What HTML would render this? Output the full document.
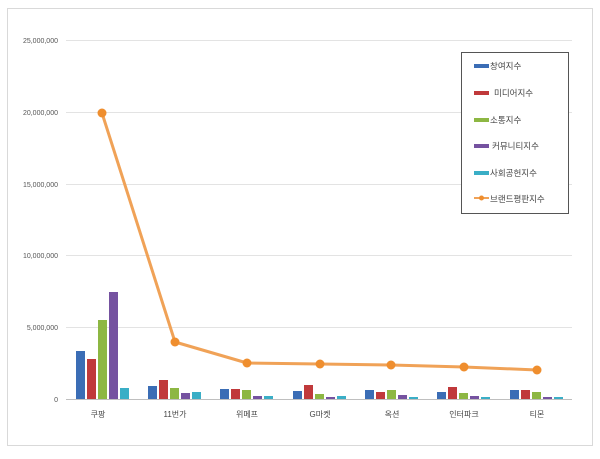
<!DOCTYPE html>
<html><head><meta charset="utf-8"><style>
body{margin:0;background:#fff;}
svg text{font-family:"Liberation Sans","Noto Sans CJK KR",sans-serif;}
</style></head><body>
<svg width="600" height="454" viewBox="0 0 600 454" xmlns="http://www.w3.org/2000/svg">
<rect x="7.5" y="8.5" width="585" height="437" fill="#fff" stroke="#d9d9d9"/>
<g stroke="#e3e3e3" stroke-width="1">
<line x1="66" y1="40.5" x2="572" y2="40.5"/>
<line x1="66" y1="112.5" x2="572" y2="112.5"/>
<line x1="66" y1="184.5" x2="572" y2="184.5"/>
<line x1="66" y1="255.5" x2="572" y2="255.5"/>
<line x1="66" y1="327.5" x2="572" y2="327.5"/>
</g>
<line x1="66" y1="399.5" x2="572" y2="399.5" stroke="#bfbfbf"/>
<g font-size="7" fill="#555" text-anchor="end">
<text x="58" y="43">25,000,000</text>
<text x="58" y="115">20,000,000</text>
<text x="58" y="187">15,000,000</text>
<text x="58" y="258">10,000,000</text>
<text x="58" y="330">5,000,000</text>
<text x="58" y="402">0</text>
</g>
<g id="bars">
<!-- 쿠팡 -->
<rect x="76" y="351" width="9" height="48" fill="#3b6db5"/>
<rect x="87" y="359" width="9" height="40" fill="#c0393b"/>
<rect x="98" y="320" width="9" height="79" fill="#8db743"/>
<rect x="109" y="292" width="9" height="107" fill="#7552a0"/>
<rect x="120" y="388" width="9" height="11" fill="#3aaec6"/>
<!-- 11번가 -->
<rect x="148" y="386" width="9" height="13" fill="#3b6db5"/>
<rect x="159" y="380" width="9" height="19" fill="#c0393b"/>
<rect x="170" y="388" width="9" height="11" fill="#8db743"/>
<rect x="181" y="393" width="9" height="6" fill="#7552a0"/>
<rect x="192" y="392" width="9" height="7" fill="#3aaec6"/>
<!-- 위메프 -->
<rect x="220" y="389" width="9" height="10" fill="#3b6db5"/>
<rect x="231" y="389" width="9" height="10" fill="#c0393b"/>
<rect x="242" y="390" width="9" height="9" fill="#8db743"/>
<rect x="253" y="396" width="9" height="3" fill="#7552a0"/>
<rect x="264" y="396" width="9" height="3" fill="#3aaec6"/>
<!-- G마켓 -->
<rect x="293" y="391" width="9" height="8" fill="#3b6db5"/>
<rect x="304" y="385" width="9" height="14" fill="#c0393b"/>
<rect x="315" y="394" width="9" height="5" fill="#8db743"/>
<rect x="326" y="397" width="9" height="2" fill="#7552a0"/>
<rect x="337" y="396" width="9" height="3" fill="#3aaec6"/>
<!-- 옥션 -->
<rect x="365" y="390" width="9" height="9" fill="#3b6db5"/>
<rect x="376" y="392" width="9" height="7" fill="#c0393b"/>
<rect x="387" y="390" width="9" height="9" fill="#8db743"/>
<rect x="398" y="395" width="9" height="4" fill="#7552a0"/>
<rect x="409" y="397" width="9" height="2" fill="#3aaec6"/>
<!-- 인터파크 -->
<rect x="437" y="392" width="9" height="7" fill="#3b6db5"/>
<rect x="448" y="387" width="9" height="12" fill="#c0393b"/>
<rect x="459" y="393" width="9" height="6" fill="#8db743"/>
<rect x="470" y="396" width="9" height="3" fill="#7552a0"/>
<rect x="481" y="397" width="9" height="2" fill="#3aaec6"/>
<!-- 티몬 -->
<rect x="510" y="390" width="9" height="9" fill="#3b6db5"/>
<rect x="521" y="390" width="9" height="9" fill="#c0393b"/>
<rect x="532" y="392" width="9" height="7" fill="#8db743"/>
<rect x="543" y="397" width="9" height="2" fill="#7552a0"/>
<rect x="554" y="397" width="9" height="2" fill="#3aaec6"/>
</g>
<polyline points="102,113 175,342 247,363 320,364 391,365 464,367 537,370" fill="none" stroke="#f0a257" stroke-width="3" stroke-linejoin="round"/>
<g fill="#ef8e2e">
<circle cx="102" cy="113" r="4.5"/><circle cx="175" cy="342" r="4.5"/><circle cx="247" cy="363" r="4.5"/>
<circle cx="320" cy="364" r="4.5"/><circle cx="391" cy="365" r="4.5"/><circle cx="464" cy="367" r="4.5"/><circle cx="537" cy="370" r="4.5"/>
</g>
<g font-size="8" fill="#444" text-anchor="middle">
<text x="98" y="417">쿠팡</text>
<text x="175" y="417">11번가</text>
<text x="247" y="417">위메프</text>
<text x="320" y="417">G마켓</text>
<text x="392" y="417">옥션</text>
<text x="464" y="417">인터파크</text>
<text x="537" y="417">티몬</text>
</g>
<rect x="461.5" y="52.5" width="107" height="161" fill="#fff" stroke="#555"/>
<g font-size="8.5" fill="#444">
<rect x="474" y="64" width="15" height="4" fill="#3b6db5"/><text x="490" y="69">창여지수</text>
<rect x="474" y="91" width="15" height="4" fill="#c0393b"/><text x="494" y="96">미디어지수</text>
<rect x="474" y="118" width="15" height="4" fill="#8db743"/><text x="490" y="123">소통지수</text>
<rect x="474" y="144" width="15" height="4" fill="#7552a0"/><text x="492" y="149">커뮤니티지수</text>
<rect x="474" y="171" width="15" height="4" fill="#3aaec6"/><text x="490" y="176">사회공헌지수</text>
<line x1="474" y1="198" x2="489" y2="198" stroke="#f0a257" stroke-width="2"/><circle cx="481.5" cy="198" r="2.5" fill="#ef8e2e"/><text x="490" y="202">브랜드평판지수</text>
</g>
</svg>
</body></html>
